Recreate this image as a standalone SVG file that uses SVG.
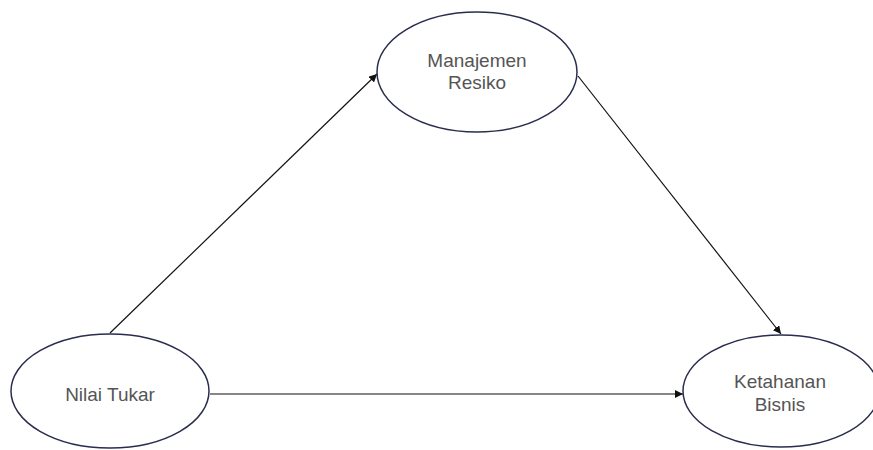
<svg xmlns="http://www.w3.org/2000/svg" width="873" height="450" viewBox="0 0 873 450">
<style>
.node ellipse{fill:#fff;stroke:#2a2d4e;stroke-width:1.5}
.node text{font-family:"Liberation Sans",Arial,sans-serif;font-size:19px;fill:#555;text-anchor:middle}
.edge{stroke:#111;stroke-width:1.2;fill:none;marker-end:url(#arr)}
</style>
<defs>
<marker id="arr" viewBox="0 0 10 10" refX="10" refY="5" markerWidth="8" markerHeight="8" markerUnits="userSpaceOnUse" orient="auto">
<path d="M0,0 L10,5 L0,10 z" fill="#111"/>
</marker>
</defs>
<rect width="873" height="450" fill="#fff"/>
<g id="connectors">
<line class="edge" x1="110" y1="333" x2="377" y2="74"/>
<line class="edge" x1="578" y1="76" x2="781" y2="334"/>
<line class="edge" x1="210" y1="394" x2="683" y2="394"/>
</g>
<g id="manajemen-resiko" class="node">
<ellipse cx="477" cy="72" rx="100" ry="60"/>
<text x="477" y="67">Manajemen</text>
<text x="477" y="89">Resiko</text>
</g>
<g id="nilai-tukar" class="node">
<ellipse cx="110" cy="391" rx="99" ry="57"/>
<text x="110" y="401">Nilai Tukar</text>
</g>
<g id="ketahanan-bisnis" class="node">
<ellipse cx="781" cy="391" rx="98" ry="56"/>
<text x="780" y="388">Ketahanan</text>
<text x="780" y="411">Bisnis</text>
</g>
</svg>
